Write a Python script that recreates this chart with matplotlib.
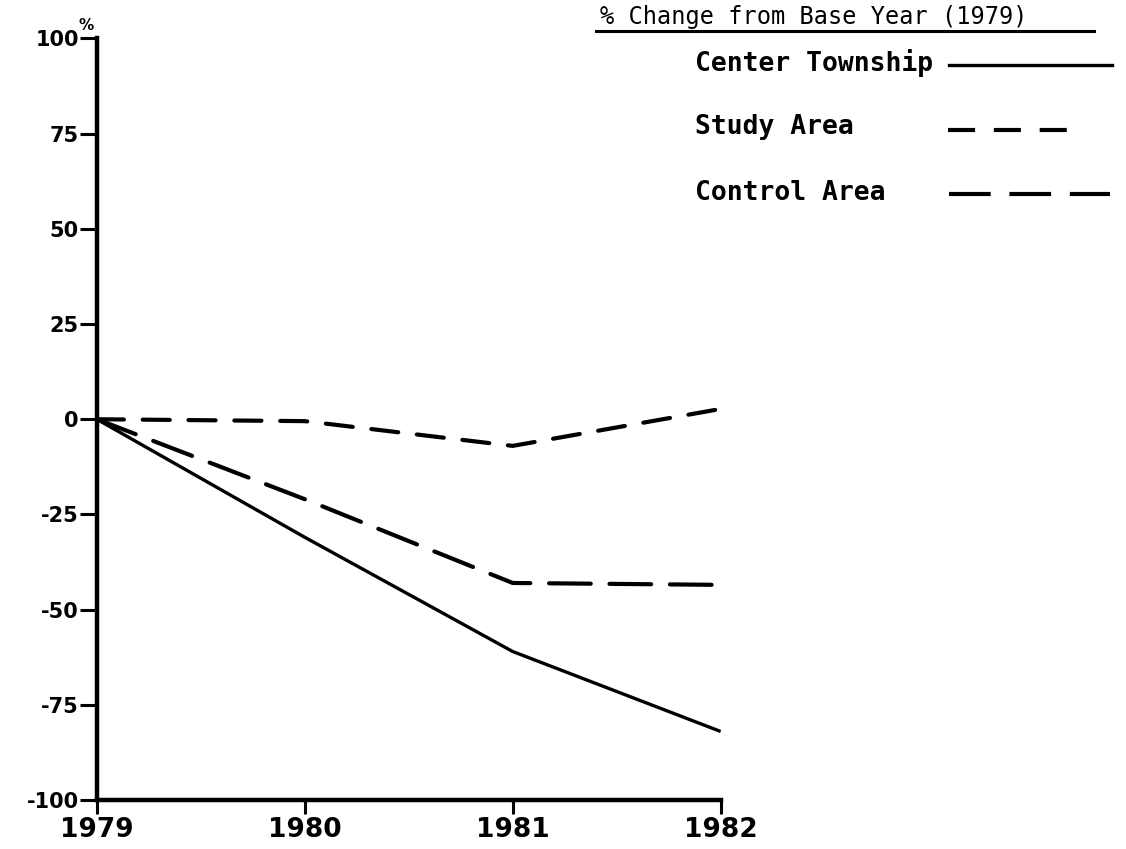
import matplotlib
matplotlib.use("Agg")
import matplotlib.pyplot as plt
from matplotlib.lines import Line2D

# data (% change from 1979)
years = [1979, 1980, 1981, 1982]
center_township = [0, -31, -61, -82]
study_area = [0, -0.5, -7, 2.7]
control_area = [0, -21, -43, -43.5]
yticks = [-100, -75, -50, -25, 0, 25, 50, 75, 100]
ytick_labels = ["-100", "-75", "-50", "-25", "0", "25", "50", "75", "100"]

series_names = ["Center Township", "Study Area", "Control Area"]
lw = 3.0
styles = [dict(ls="-", lw=2.4),
          dict(ls=(0, (6.5, 4.5)), lw=lw),
          dict(ls=(0, (10, 4.5)), lw=lw)]

fig = plt.figure(figsize=(11.26, 8.49), dpi=100)
ax = fig.add_axes([0.086, 0.0577, 0.554, 0.897])

for vals, st in zip([center_township, study_area, control_area], styles):
    ax.plot(years, vals, color="black", solid_capstyle="butt",
            dash_capstyle="round", **st)

ax.set_xlim(1979, 1982)
ax.set_ylim(-100, 100)
ax.set_xticks(years)
ax.set_xticklabels([str(y) for y in years], fontsize=19, fontweight="bold",
                   fontfamily="DejaVu Sans")
ax.set_yticks(yticks)
ax.set_yticklabels(ytick_labels, fontsize=15, fontweight="bold",
                   fontfamily="DejaVu Sans")
ax.tick_params(axis="y", direction="out", length=12, width=2.2, pad=1)
ax.tick_params(axis="x", direction="out", length=10, width=2.2, pad=2)

for side in ["top", "right"]:
    ax.spines[side].set_visible(False)
for side in ["left", "bottom"]:
    ax.spines[side].set_linewidth(3.2)
ax.patch.set_alpha(0)

# small % sign above the 100 tick
ax.annotate("%", xy=(0, 1), xycoords="axes fraction", xytext=(-8, 4),
            textcoords="offset points", fontsize=11, fontweight="bold",
            ha="center", va="bottom")

# title, underlined
fig.text(0.533, 0.972, "% Change from Base Year (1979)", fontsize=17,
         fontfamily="DejaVu Sans Mono", ha="left", va="baseline")
fig.add_artist(Line2D([0.529, 0.972], [0.963, 0.963], color="black", lw=2.2,
                      transform=fig.transFigure))

# hand-made legend: label left, line sample right
label_y = [0.9164, 0.8422, 0.7644]
line_y = [0.9234, 0.8469, 0.7715]
line_x = [(0.843, 0.988), (0.842, 0.964), (0.843, 0.986)]
for name, ty, ly, lx, st in zip(series_names, label_y, line_y, line_x, styles):
    fig.text(0.617, ty, name, fontsize=19, fontweight="bold",
             fontfamily="DejaVu Sans Mono", ha="left", va="baseline")
    fig.add_artist(Line2D(list(lx), [ly, ly], color="black",
                          transform=fig.transFigure, **st))

fig.savefig("out.png", dpi=100, facecolor="white")
